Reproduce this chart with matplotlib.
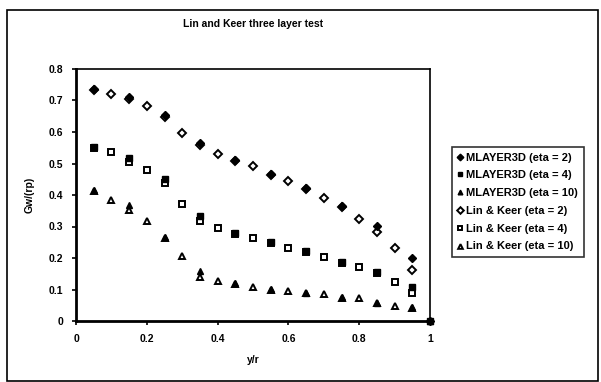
import numpy as np
import matplotlib
matplotlib.use('Agg')
import matplotlib.pyplot as plt
from matplotlib.patches import Rectangle

plt.rcParams['font.family'] = 'Liberation Sans'
plt.rcParams['font.weight'] = 'bold'

# MLAYER3D results (filled markers)
x_ml = [0.05, 0.15, 0.25, 0.35, 0.45, 0.55, 0.65, 0.75, 0.85, 0.95, 1.0]
ml_eta2 = [0.737, 0.712, 0.655, 0.565, 0.512, 0.467, 0.422, 0.365, 0.303, 0.201, 0.0]
ml_eta4 = [0.553, 0.517, 0.450, 0.333, 0.280, 0.251, 0.223, 0.188, 0.157, 0.107, 0.0]
ml_eta10 = [0.416, 0.368, 0.266, 0.160, 0.120, 0.102, 0.090, 0.075, 0.058, 0.043, 0.0]

# Lin & Keer solution (open markers)
x_lk = [0.05, 0.1, 0.15, 0.2, 0.25, 0.3, 0.35, 0.4, 0.45, 0.5, 0.55, 0.6,
        0.65, 0.7, 0.75, 0.8, 0.85, 0.9, 0.95]
lk_eta2 = [0.733, 0.722, 0.706, 0.683, 0.648, 0.598, 0.560, 0.531, 0.508,
           0.491, 0.464, 0.443, 0.419, 0.391, 0.362, 0.323, 0.282, 0.233, 0.162]
lk_eta4 = [0.548, 0.537, 0.506, 0.479, 0.437, 0.370, 0.318, 0.294, 0.277,
           0.262, 0.248, 0.231, 0.220, 0.204, 0.185, 0.170, 0.153, 0.125, 0.088]
lk_eta10 = [0.412, 0.384, 0.352, 0.317, 0.262, 0.207, 0.141, 0.128, 0.118,
            0.109, 0.100, 0.096, 0.088, 0.086, 0.073, 0.072, 0.056, 0.048, 0.040]

fig = plt.figure(figsize=(6.01, 3.82), dpi=100)
fig.patches.append(Rectangle((7/601, 1/382), 591/601, 371/382, transform=fig.transFigure,
                             fill=False, lw=1.2, ec='black'))
ax = fig.add_axes([76/601, 61/382, 354/601, 252/382])

ms = 4.2
ax.plot(x_lk, lk_eta2, 'D', ms=ms, mfc='white', mec='black', mew=1.4, ls='none', label='Lin & Keer (eta = 2)')
ax.plot(x_lk, lk_eta4, 's', ms=ms, mfc='white', mec='black', mew=1.4, ls='none', label='Lin & Keer (eta = 4)')
ax.plot(x_lk, lk_eta10, '^', ms=ms, mfc='white', mec='black', mew=1.4, ls='none', label='Lin & Keer (eta = 10)')
ax.plot(x_ml, ml_eta2, 'D', ms=ms, color='black', ls='none', label='MLAYER3D (eta = 2)')
ax.plot(x_ml, ml_eta4, 's', ms=ms, color='black', ls='none', label='MLAYER3D (eta = 4)')
ax.plot(x_ml, ml_eta10, '^', ms=ms, color='black', ls='none', label='MLAYER3D (eta = 10)')
for ln in ax.lines:
    ln.set_clip_on(False)

ax.set_xlim(0, 1)
ax.set_ylim(0, 0.8)
ax.set_xticks([0, 0.2, 0.4, 0.6, 0.8, 1])
ax.set_xticklabels(['0', '0.2', '0.4', '0.6', '0.8', '1'])
ax.set_yticks(np.arange(0, 0.81, 0.1))
ax.set_yticklabels(['0', '0.1', '0.2', '0.3', '0.4', '0.5', '0.6', '0.7', '0.8'])
ax.tick_params(labelsize=7.5, length=3, width=1.2, pad=6)
for s in ['left', 'bottom']:
    ax.spines[s].set_linewidth(2)
for s in ['top', 'right']:
    ax.spines[s].set_linewidth(1.2)

ax.set_title('Lin and Keer three layer test', fontsize=7.5, fontweight='bold', pad=30)
ax.set_xlabel('y/r', fontsize=7.5, fontweight='bold', labelpad=8)
ax.set_ylabel('Gw/(rp)', fontsize=7.5, fontweight='bold', labelpad=10)

h, l = ax.get_legend_handles_labels()
order = [3, 4, 5, 0, 1, 2]
leg = ax.legend([h[i] for i in order], [l[i] for i in order],
                loc='upper left', bbox_to_anchor=(452/601, 1 - 147/382), bbox_transform=fig.transFigure,
                fontsize=8, frameon=True, fancybox=False, edgecolor='black',
                handlelength=0.5, handletextpad=0.3, labelspacing=0.7, borderpad=0.5,
                borderaxespad=0, markerscale=0.8)
leg.get_frame().set_linewidth(1.2)

fig.savefig('out.png', dpi=100)
